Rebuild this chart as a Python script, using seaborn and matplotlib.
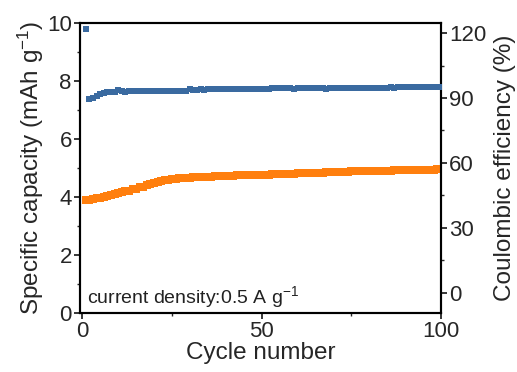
import numpy as np
import pandas as pd
import matplotlib
matplotlib.use("Agg")
import matplotlib.pyplot as plt
from matplotlib.ticker import MultipleLocator
import seaborn as sns

# Cycling data
cycles = list(range(1, 101))
capacity = [
    3.90, 3.90, 3.92, 3.95, 3.98, 4.01, 4.04, 4.07, 4.10, 4.13,
    4.16, 4.19, 4.22, 4.26, 4.29, 4.33, 4.36, 4.40, 4.44, 4.48,
    4.52, 4.55, 4.58, 4.60, 4.62, 4.63, 4.64, 4.65, 4.66, 4.67,
    4.68, 4.68, 4.69, 4.69, 4.70, 4.70, 4.71, 4.71, 4.72, 4.72,
    4.73, 4.73, 4.74, 4.74, 4.75, 4.75, 4.75, 4.76, 4.76, 4.77,
    4.77, 4.77, 4.78, 4.78, 4.79, 4.79, 4.80, 4.80, 4.80, 4.81,
    4.81, 4.82, 4.82, 4.83, 4.83, 4.84, 4.84, 4.85, 4.85, 4.86,
    4.86, 4.86, 4.87, 4.87, 4.88, 4.88, 4.88, 4.89, 4.89, 4.89,
    4.90, 4.90, 4.90, 4.91, 4.91, 4.91, 4.92, 4.92, 4.92, 4.92,
    4.93, 4.93, 4.93, 4.93, 4.94, 4.94, 4.94, 4.94, 4.95, 4.95,
]
efficiency = [
    121.9, 89.6, 90.2, 91.0, 91.8, 92.3, 92.6, 92.8, 93.0, 93.5,
    93.1, 93.0, 93.1, 93.1, 93.2, 93.1, 93.2, 93.2, 93.1, 93.2,
    93.2, 93.3, 93.2, 93.3, 93.3, 93.2, 93.3, 93.3, 93.4, 94.2,
    93.6, 93.9, 94.0, 93.9, 94.0, 94.0, 94.1, 94.0, 94.1, 94.1,
    94.1, 94.2, 94.1, 94.2, 94.2, 94.2, 94.3, 94.2, 94.3, 94.3,
    94.3, 94.3, 94.8, 94.4, 94.4, 94.4, 94.4, 94.5, 94.0, 94.5,
    94.5, 94.5, 94.5, 94.5, 94.6, 94.5, 94.6, 94.0, 94.6, 94.6,
    94.6, 94.6, 94.7, 94.6, 94.7, 94.7, 94.7, 94.7, 94.7, 94.8,
    94.8, 94.8, 94.8, 94.8, 94.8, 94.9, 94.8, 94.9, 94.9, 94.9,
    94.9, 94.9, 95.0, 94.9, 95.0, 95.0, 95.0, 95.0, 95.0, 95.0,
]

df = pd.DataFrame({"cycle": cycles, "capacity": capacity, "efficiency": efficiency})

sns.set_style("ticks")
plt.rcParams["font.family"] = ["Liberation Sans", "DejaVu Sans"]
plt.rcParams["mathtext.fontset"] = "custom"
plt.rcParams["mathtext.rm"] = "Liberation Sans"
plt.rcParams["mathtext.it"] = "Liberation Sans:italic"
plt.rcParams["axes.linewidth"] = 1.5

fig = plt.figure(figsize=(5.17, 3.72), dpi=100)
ax = fig.add_axes([0.155, 0.159, 0.698, 0.779])
ax2 = ax.twinx()

orange = "#ff7f0e"
blue = "#3a6aa0"

sns.scatterplot(data=df, x="cycle", y="capacity", ax=ax, marker="s", s=30,
                color=orange, linewidth=0, legend=False, zorder=3)
sns.scatterplot(data=df, x="cycle", y="efficiency", ax=ax2, marker="s", s=24,
                color=blue, linewidth=0, legend=False, zorder=3)

ax.set_xlim(-0.6, 100)
ax.set_ylim(0, 10)
ax2.set_ylim(-9.2, 124.6)

ax.xaxis.set_major_locator(MultipleLocator(50))
ax.xaxis.set_minor_locator(MultipleLocator(25))
ax.yaxis.set_major_locator(MultipleLocator(2))
ax.yaxis.set_minor_locator(MultipleLocator(1))
ax2.yaxis.set_major_locator(MultipleLocator(30))
ax2.yaxis.set_minor_locator(MultipleLocator(15))

for a in (ax, ax2):
    a.tick_params(which="major", direction="out", length=4, width=1.3, labelsize=16, pad=2)
    a.tick_params(which="minor", direction="out", length=2.5, width=1.0)
    for sp in a.spines.values():
        sp.set_visible(True)
        sp.set_linewidth(1.5)
        sp.set_color("black")

ax.set_xlabel("Cycle number", fontsize=17.5, labelpad=0)
ax.set_ylabel("Specific capacity (mAh g$^{-1}$)", fontsize=17.5, labelpad=1)
ax2.set_ylabel("Coulombic efficiency (%)", fontsize=17.5, labelpad=5)

ax.text(0.02, 0.055, "current density:0.5 A g$^{-1}$", transform=ax.transAxes,
        fontsize=14, va="center", ha="left", color="#222222")

fig.savefig("out.png", dpi=100)
